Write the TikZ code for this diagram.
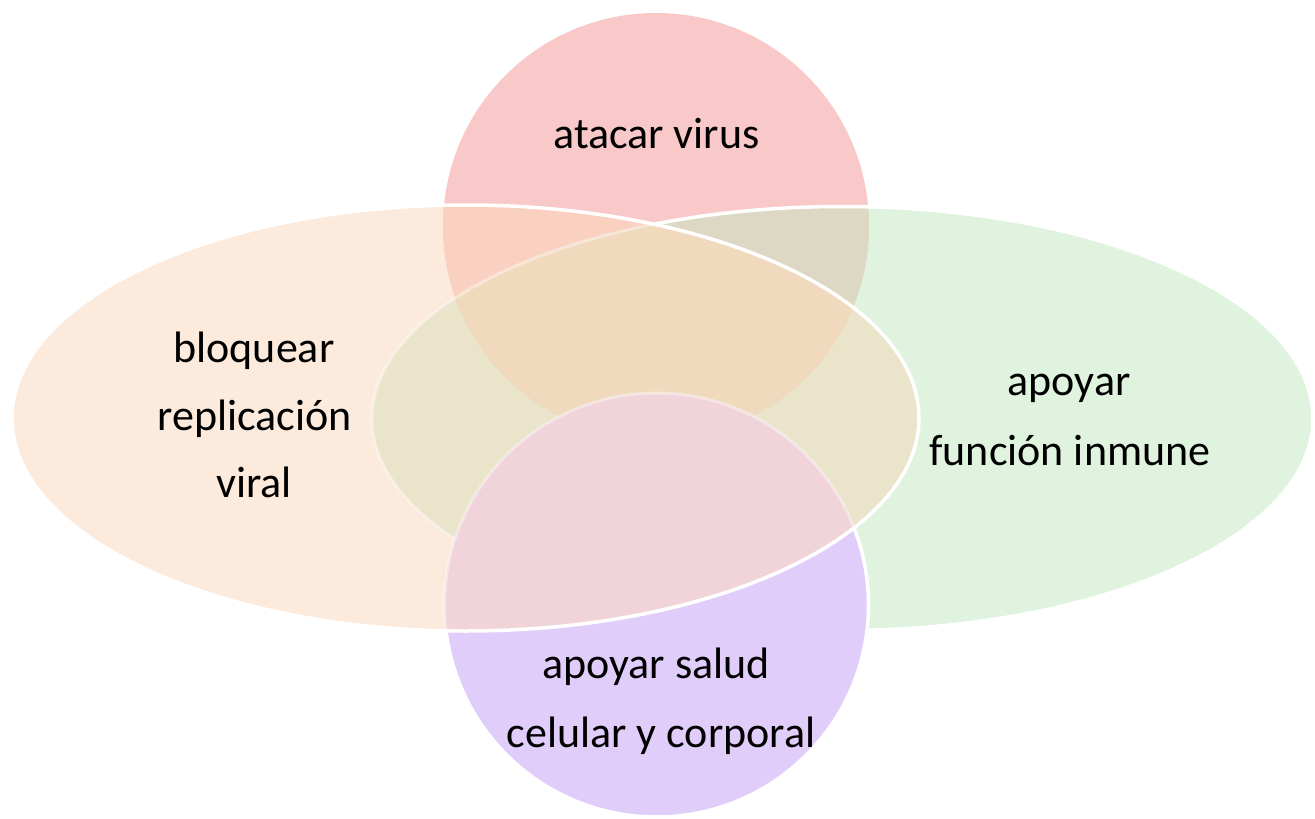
\documentclass[tikz,border=0pt]{standalone}
\usepackage{fontspec}
\setmainfont{Carlito}
\definecolor{cPink}{RGB}{249,200,201}
\definecolor{cOrange}{RGB}{252,235,220}
\definecolor{cGreen}{RGB}{224,243,223}
\definecolor{cPurple}{RGB}{225,205,250}
\definecolor{cTO}{RGB}{250,209,192}
\definecolor{cTG}{RGB}{221,216,196}
\definecolor{cTOG}{RGB}{240,217,188}
\definecolor{cOG}{RGB}{234,228,203}
\definecolor{cBO}{RGB}{240,212,218}
\def\TopC{(656,226) circle [radius=213]}
\def\BotC{(656.5,605) circle [radius=212]}
\def\OraE{(465.5,418) ellipse [x radius=453.5, y radius=213]}
\def\GreE{(842.5,418.5) ellipse [x radius=470.5, y radius=212]}
\tikzset{
  lbl/.style={anchor=base, inner sep=0pt, font=\fontsize{44}{53}\selectfont, text=black},
  rim/.style={draw=white, line width=3.5pt},
  softrim/.style={draw=white, draw opacity=0.4, line width=3pt}
}
\begin{document}
\begin{tikzpicture}[x=1pt, y=-1pt]
\useasboundingbox[fill=white] (0,0) rectangle (1315,819);
% base fills
\fill[cGreen] \GreE;
\fill[cOrange] \OraE;
\begin{scope}
  \clip \GreE;
  \fill[cOG] \OraE;
\end{scope}
% top circle
\fill[cPink] \TopC;
\begin{scope}
  \clip \TopC;
  \fill[cTO] \OraE;
  \fill[cTG] \GreE;
  \begin{scope}
    \clip \GreE;
    \fill[cTOG] \OraE;
  \end{scope}
\end{scope}
% bottom circle
\fill[cPurple] \BotC;
\begin{scope}
  \clip \BotC;
  \fill[cBO] \OraE;
\end{scope}
% green rim, hidden by the bottom circle
\begin{scope}[even odd rule]
  \clip (0,0) rectangle (1315,819) \BotC;
  \begin{scope}
    \clip \OraE;
    \path[softrim] \GreE;
  \end{scope}
  \begin{scope}
    \clip (0,0) rectangle (1315,819) \OraE;
    \path[rim] \GreE;
  \end{scope}
\end{scope}
% bottom circle rim
\begin{scope}
  \clip \OraE;
  \path[softrim] \BotC;
\end{scope}
\begin{scope}[even odd rule]
  \clip (0,0) rectangle (1315,819) \OraE;
  \path[rim] \BotC;
\end{scope}
% orange rim on top
\path[rim] \OraE;
% labels
\node[lbl] (t1) at (656.5,148) {atacar virus};
\node[lbl] (l1) at (254,362) {bloquear};
\node[lbl] (l2) at (254.5,430) {replicación};
\node[lbl] (l3) at (254,497) {viral};
\node[lbl] (r1) at (1069,395) {apoyar};
\node[lbl] (r2) at (1070,465) {función inmune};
\node[lbl] (b1) at (656,678) {apoyar salud};
\node[lbl] (b2) at (661,747) {celular y corporal};
\end{tikzpicture}
\end{document}
